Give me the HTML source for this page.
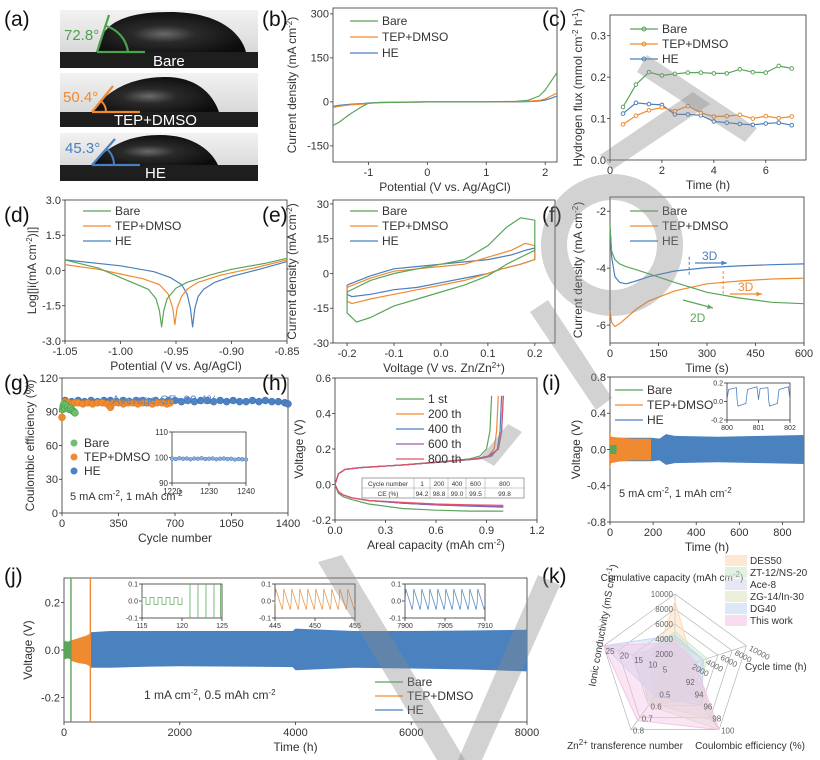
<!DOCTYPE html>
<html><head><meta charset="utf-8">
<style>
html,body{margin:0;padding:0;background:#fff;}
svg{display:block;font-family:"Liberation Sans",Arial,sans-serif;}
</style></head>
<body>
<svg id="fig" width="820" height="760" viewBox="0 0 820 760" xmlns="http://www.w3.org/2000/svg">
  <rect x="0" y="0" width="820" height="760" fill="#fff"/>
  <defs>
    <linearGradient id="photoBg" x1="0" y1="0" x2="0" y2="1">
      <stop offset="0" stop-color="#f2f2f2"/><stop offset="1" stop-color="#cfcfcf"/>
    </linearGradient>
    <radialGradient id="drop" cx="0.45" cy="0.55" r="0.6">
      <stop offset="0" stop-color="#6a6a6a"/><stop offset="0.35" stop-color="#2a2a2a"/><stop offset="1" stop-color="#0c0c0c"/>
    </radialGradient>
  </defs>
  <g>
    <g>
      <rect x="60" y="10" width="198" height="58" fill="url(#photoBg)"/>
      <rect x="60" y="52" width="198" height="16" fill="#1e1e1e"/>
      <path d="M97,52 C100,20 130,12 170,12 C215,12 240,30 246,52 Z" fill="url(#drop)"/>
      <text x="153" y="66" font-size="15" fill="#fff">Bare</text>
      <path d="M97,52 L145,52 M97,52 L109,15" stroke="#4ea24e" stroke-width="2.2" fill="none"/>
      <path d="M128,52 A31,31 0 0 0 106,26" stroke="#4ea24e" stroke-width="2.2" fill="none"/>
      <text x="64" y="40" font-size="15" fill="#4ea24e">72.8°</text>
    </g>
    <g>
      <rect x="60" y="73" width="198" height="54" fill="url(#photoBg)"/>
      <rect x="60" y="112" width="198" height="15" fill="#1e1e1e"/>
      <path d="M92,112 C110,85 140,77 165,77 C195,77 212,92 219,112 Z" fill="url(#drop)"/>
      <text x="114" y="125" font-size="15" fill="#fff">TEP+DMSO</text>
      <path d="M92,112 L140,112 M92,112 L113,86" stroke="#f08a30" stroke-width="2.2" fill="none"/>
      <path d="M106,112 A14,14 0 0 0 101,101" stroke="#f08a30" stroke-width="2" fill="none"/>
      <text x="63" y="102" font-size="15" fill="#f08a30">50.4°</text>
    </g>
    <g>
      <rect x="60" y="133" width="198" height="48" fill="url(#photoBg)"/>
      <rect x="60" y="165" width="198" height="16" fill="#1e1e1e"/>
      <path d="M92,165 C110,142 135,135 160,135 C190,135 210,148 218,165 Z" fill="url(#drop)"/>
      <text x="145" y="178" font-size="15" fill="#fff">HE</text>
      <path d="M92,165 L140,165 M92,165 L115,139" stroke="#4a7fbf" stroke-width="2.2" fill="none"/>
      <path d="M114,165 A22,22 0 0 0 107,149" stroke="#4a7fbf" stroke-width="2" fill="none"/>
      <text x="65" y="153" font-size="15" fill="#4a7fbf">45.3°</text>
    </g>
  </g>
</svg>
<script>
// ---------------- DATA ----------------
const bV=[-1.6,-1.5,-1.3,-1.1,-1.0,-0.8,0,1.0,1.5,1.7,1.9,2.0,2.1,2.2];
const bBare=[-80,-70,-40,-15,-5,-2,0,0,2,5,20,40,70,100];
const bTep=[-20,-15,-10,-8,-5,-2,0,0,1,2,5,10,20,30];
const bHe=[-15,-12,-8,-6,-4,-2,0,0,0,1,3,6,12,20];
const cTime=[0.5,1,1.5,2,2.5,3,3.5,4,4.5,5,5.5,6,6.5,7];
const cBare=[0.128,0.182,0.212,0.204,0.208,0.211,0.211,0.209,0.209,0.219,0.212,0.211,0.227,0.221];
const cTep=[0.086,0.107,0.12,0.127,0.118,0.13,0.114,0.105,0.106,0.109,0.1,0.106,0.101,0.105];
const cHe=[0.112,0.138,0.135,0.133,0.11,0.11,0.108,0.093,0.09,0.087,0.085,0.088,0.09,0.084];
const dBareX=[-1.05,-1.02,-1.0,-0.985,-0.975,-0.968,-0.965,-0.963,-0.961,-0.958,-0.95,-0.94,-0.92,-0.9,-0.87,-0.85];
const dBareY=[0.45,0.1,-0.3,-0.6,-0.8,-1.2,-1.7,-2.4,-1.7,-1.2,-0.75,-0.5,-0.2,0.05,0.3,0.52];
const dTepX=[-1.05,-1.02,-1.0,-0.98,-0.965,-0.957,-0.953,-0.951,-0.949,-0.945,-0.94,-0.93,-0.91,-0.88,-0.85];
const dTepY=[0.25,0.05,-0.15,-0.35,-0.6,-1.0,-1.6,-2.3,-1.6,-1.1,-0.8,-0.5,-0.2,0.1,0.45];
const dHeX=[-1.05,-1.0,-0.97,-0.955,-0.945,-0.94,-0.937,-0.935,-0.933,-0.93,-0.925,-0.915,-0.9,-0.875,-0.85];
const dHeY=[0.45,0.2,-0.05,-0.3,-0.6,-1.0,-1.6,-2.4,-1.6,-1.1,-0.8,-0.5,-0.25,0.05,0.38];
const eBareX=[-0.2,-0.15,-0.1,-0.05,0,0.05,0.1,0.14,0.17,0.2,0.2,0.17,0.14,0.1,0.05,0,-0.05,-0.1,-0.15,-0.18,-0.2,-0.2];
const eBareY=[-8,-3,0,2,4,6,12,20,24,23,10,7,4,-1,-5,-8,-11,-14,-19,-21,-17,-8];
const eTepX=[-0.2,-0.15,-0.1,-0.05,0,0.05,0.1,0.15,0.18,0.2,0.2,0.17,0.13,0.1,0.05,0,-0.05,-0.1,-0.15,-0.19,-0.2,-0.2];
const eTepY=[-6,-2,1,2,3,4,7,10,13,12,6,4,2,0,-3,-5,-7,-9,-11,-13,-12,-6];
const eHeX=[-0.2,-0.15,-0.1,-0.05,0,0.05,0.1,0.15,0.18,0.2,0.2,0.17,0.13,0.1,0.05,0,-0.05,-0.1,-0.15,-0.19,-0.2,-0.2];
const eHeY=[-5,-1,2,3,4,5,6,8,10,11,6,4,2,0,-2,-4,-6,-7,-9,-10,-9,-5];
const fTime=[0,5,15,30,50,80,120,200,300,400,500,600];
const fBare=[-2.5,-3.4,-3.7,-3.85,-3.95,-4.05,-4.2,-4.5,-4.85,-5.05,-5.2,-5.25];
const fTep=[-5.5,-5.9,-6.05,-5.95,-5.75,-5.45,-5.15,-4.8,-4.55,-4.45,-4.38,-4.35];
const fHe=[-2.5,-3.6,-4.3,-4.5,-4.55,-4.45,-4.3,-4.1,-3.98,-3.92,-3.88,-3.85];
const gBareC=[3,8,12,18,25,35,45,55,65,75,80];
const gBareV=[92,95,97,93,96,94,92,93,91,90,89];
const gTepC=[0,20,40,60,80,100,130,160,190,220,250,280,300,320,350,380,410,440,470,500,530,560,590,620,650,670];
const gTepV=[85,99,98,97,98,98,97,98,97,98,98,97,94,98,98,97,98,98,97,98,98,97,98,98,97,98];
const gHeC=[20,60,100,140,180,220,260,300,340,380,420,460,500,540,580,620,660,700,740,780,820,860,900,940,980,1020,1060,1100,1140,1180,1220,1260,1300,1340,1380,1400];
const gHeV=[100,99,100,99,100,99,100,100,99,100,99,100,100,99,100,99,100,100,99,100,99,100,100,99,100,99,100,99,99,100,99,100,99,99,98,97];
const gInsetC=[1220,1221,1222,1223,1224,1225,1226,1227,1228,1229,1230,1231,1232,1233,1234,1235,1236,1237,1238,1239,1240];
const gInsetV=[99.6,99.4,99.7,99.5,99.6,99.3,99.6,99.5,99.7,99.4,99.5,99.6,99.3,99.5,99.6,99.4,99.5,99.2,99.4,99.3,99.2];
const hLabels=["1 st","200 th","400 th","600 th","800 th"];
const hChargeV=[0,0.06,0.085,0.095,0.11,0.13,0.145,0.16,0.2,0.3,0.5];
const hChargeCap=[[0,0.02,0.06,0.15,0.4,0.65,0.8,0.86,0.9,0.92,0.93],[0,0.02,0.06,0.15,0.4,0.68,0.85,0.91,0.945,0.96,0.97],[0,0.02,0.06,0.15,0.4,0.68,0.86,0.93,0.965,0.98,0.99],[0,0.02,0.06,0.15,0.4,0.68,0.85,0.92,0.97,0.99,1.0],[0,0.02,0.06,0.15,0.4,0.66,0.83,0.91,0.97,0.99,1.0]];
const hDisCap=[0,0.02,0.05,0.1,0.2,0.4,0.6,0.8,1.0];
const hDisV=[[0,-0.05,-0.07,-0.085,-0.11,-0.135,-0.145,-0.15,-0.15],[0,-0.04,-0.06,-0.075,-0.09,-0.105,-0.115,-0.12,-0.125],[0,-0.04,-0.06,-0.075,-0.09,-0.105,-0.115,-0.122,-0.128],[0,-0.04,-0.06,-0.075,-0.09,-0.105,-0.115,-0.12,-0.125],[0,-0.04,-0.06,-0.075,-0.09,-0.1,-0.11,-0.115,-0.118]];
const hCycles=["1","200","400","600","800"];
const hCE=["94.2","98.8","99.0","99.5","99.8"];
const iBareT=[0,10,20,30];const iBareHi=[0.05,0.05,0.05,0.05];const iBareLo=[-0.05,-0.05,-0.05,-0.05];
const iTepT=[0,5,50,100,150,190];const iTepHi=[0.19,0.14,0.13,0.12,0.12,0.12];const iTepLo=[-0.22,-0.15,-0.13,-0.12,-0.12,-0.12];
const iHeT=[0,190,230,260,300,500,700,900];const iHeHi=[0.13,0.13,0.12,0.17,0.15,0.14,0.15,0.16];const iHeLo=[-0.13,-0.13,-0.12,-0.17,-0.15,-0.14,-0.15,-0.16];
const jBareT=[0,60,120];const jBareHi=[0.04,0.035,0.04];const jBareLo=[-0.04,-0.035,-0.04];
const jTepT=[120,250,380,455];const jTepHi=[0.04,0.05,0.06,0.07];const jTepLo=[-0.045,-0.055,-0.06,-0.07];
const jHeT=[455,800,1500,2000,3000,3950,4000,5000,6000,7000,8000];
const jHeHi=[0.075,0.08,0.08,0.08,0.08,0.08,0.09,0.08,0.08,0.082,0.085];
const jHeLo=[-0.075,-0.075,-0.07,-0.068,-0.07,-0.072,-0.085,-0.075,-0.078,-0.082,-0.09];
const kAxes=["capacity","cycle","ce","transference","conductivity"];
const kSeries=["DES50","ZT-12/NS-20","Ace-8","ZG-14/In-30","DG40","This work"];
const kVals=[[0.9,0.25,0.35,0.45,0.3],[0.5,0.45,0.5,0.6,0.5],[0.35,0.3,0.85,0.55,0.6],[0.25,0.2,1.0,0.6,0.15],[0.45,0.4,0.6,0.45,1.0],[0.35,0.28,1.0,0.85,1.0]];
const kFill=["#fbd9b5","#cfe8cf","#d9d9ec","#e0e3c4","#c4d8f0","#f3c6e6"];

// ---------------- HELPERS ----------------
const NS='http://www.w3.org/2000/svg';
const svg=document.getElementById('fig');
const GREEN='#5aa55a',ORANGE='#f08a30',BLUE='#4a7fbf';
function mk(tag,attrs,parent){const e=document.createElementNS(NS,tag);for(const k in attrs)e.setAttribute(k,attrs[k]);(parent||svg).appendChild(e);return e;}
function ax(x,y,w,h,xmin,xmax,ymin,ymax){return {x,y,w,h,sx:v=>x+(v-xmin)/(xmax-xmin)*w,sy:v=>y+h-(v-ymin)/(ymax-ymin)*h};}
function txt(x,y,s,o,parent){o=o||{};const t=mk('text',{x:x,y:y,'font-size':o.fs||11,fill:o.fill||'#333','text-anchor':o.anchor||'start'},parent);if(o.rot)t.setAttribute('transform','rotate('+o.rot+' '+x+' '+y+')');t.innerHTML=s;return t;}
function frame(a,xt,xl,yt,yl,xtitle,ytitle,name,fs){
  fs=fs||11;
  const g=mk('g',{});
  
  
  const r=mk('rect',{x:a.x,y:a.y,width:a.w,height:a.h,fill:'none',stroke:'#333','stroke-width':0.8},g);
  
  
  xt.forEach((v,i)=>{const X=a.sx(v);mk('line',{x1:X,x2:X,y1:a.y+a.h,y2:a.y+a.h+3,stroke:'#333','stroke-width':0.8},g);
    const t=txt(X,a.y+a.h+fs+3,xl[i],{fs:fs,anchor:'middle'},g);
    
    });
  yt.forEach((v,i)=>{const Y=a.sy(v);mk('line',{x1:a.x-3,x2:a.x,y1:Y,y2:Y,stroke:'#333','stroke-width':0.8},g);
    const t=txt(a.x-4,Y+fs*0.35,yl[i],{fs:fs,anchor:'end'},g);
    
    });
  if(xtitle){const t=txt(a.x+a.w/2,a.y+a.h+fs*2+7,xtitle,{fs:12,anchor:'middle'},g);
    
    }
  if(ytitle){const yx=ytitle[1],t=txt(yx,a.y+a.h/2,ytitle[0],{fs:12,anchor:'middle',rot:-90},g);
    
    }
  return g;}
function path(a,xs,ys,color,w,parent){let d='';xs.forEach((v,i)=>{d+=(i?'L':'M')+a.sx(v).toFixed(1)+','+a.sy(ys[i]).toFixed(1);});return mk('path',{d:d,fill:'none',stroke:color,'stroke-width':w||1.2,'stroke-linejoin':'round'},parent);}
function band(a,ts,hi,lo,color,parent){let d='';ts.forEach((v,i)=>{d+=(i?'L':'M')+a.sx(v).toFixed(1)+','+a.sy(hi[i]).toFixed(1);});for(let i=ts.length-1;i>=0;i--)d+='L'+a.sx(ts[i]).toFixed(1)+','+a.sy(lo[i]).toFixed(1);return mk('path',{d:d+'Z',fill:color,stroke:'none'},parent);}
function letter(x,y,s){const t=txt(x,y,s,{fs:21,fill:'#111'});return t;}
function legLine(x,y,color,label,marker,fs){const g=mk('g',{});mk('line',{x1:x,x2:x+28,y1:y,y2:y,stroke:color,'stroke-width':1.2},g);if(marker)mk('circle',{cx:x+14,cy:y,r:2,fill:'none',stroke:color},g);txt(x+32,y+4,label,{fs:fs||12},g);return g;}
const SUP=s=>'<tspan baseline-shift="super" font-size="8">'+s+'</tspan>';

letter(4,26,'(a)');letter(262,26,'(b)');letter(542,26,'(c)');
letter(4,222,'(d)');letter(262,222,'(e)');letter(542,222,'(f)');
letter(4,390,'(g)');letter(262,390,'(h)');letter(542,390,'(i)');
letter(4,583,'(j)');letter(542,583,'(k)');

// (b)
{const a=ax(333,8,224,154,-1.6,2.2,-205,320);
frame(a,[-1,0,1,2],['-1','0','1','2'],[-150,0,150,300],['-150','0','150','300'],'Potential (V vs. Ag/AgCl)',['Current density (mA cm'+SUP('-2')+')',296],'lsv');
let p=path(a,bV,bHe,BLUE);
p=path(a,bV,bTep,ORANGE);
p=path(a,bV,bBare,GREEN);
let l=legLine(350,21,GREEN,'Bare');
l=legLine(350,37,ORANGE,'TEP+DMSO');
l=legLine(350,53,BLUE,'HE');}

// (c)
{const a=ax(610,15,196,145,0,7.55,0,0.35);
frame(a,[0,2,4,6],['0','2','4','6'],[0,0.1,0.2,0.3],['0.0','0.1','0.2','0.3'],'Time (h)',['Hydrogen flux (mmol cm'+SUP('-2')+' h'+SUP('-1')+')',582],'flux');
[[cHe,BLUE,'he'],[cTep,ORANGE,'tep-dmso'],[cBare,GREEN,'bare']].forEach(s=>{
  const p=path(a,cTime,s[0],s[1]);
  
  
  cTime.forEach((t,i)=>{const c=mk('circle',{cx:a.sx(t),cy:a.sy(s[0][i]),r:1.8,fill:'#fff',stroke:s[1],'stroke-width':1});
    
    });});
let l=legLine(630,29,GREEN,'Bare',1);
l=legLine(630,44,ORANGE,'TEP+DMSO',1);
l=legLine(630,59,BLUE,'HE',1);}

// (d)
{const a=ax(65,200,222,141,-1.05,-0.85,-3,3);
frame(a,[-1.05,-1.0,-0.95,-0.9,-0.85],['-1.05','-1.00','-0.95','-0.90','-0.85'],[-3,-1.5,0,1.5,3],['-3.0','-1.5','0.0','1.5','3.0'],'Potential (V vs. Ag/AgCl)',['Log[|i(mA cm'+SUP('-2')+')|]',36],'tafel');
let p=path(a,dHeX,dHeY,BLUE);
p=path(a,dTepX,dTepY,ORANGE);
p=path(a,dBareX,dBareY,GREEN);
let l=legLine(83,211,GREEN,'Bare');
l=legLine(83,226,ORANGE,'TEP+DMSO');
l=legLine(83,241,BLUE,'HE');}

// (e)
{const a=ax(333,200,222,143,-0.23,0.243,-30,31.7);
frame(a,[-0.2,-0.1,0,0.1,0.2],['-0.2','-0.1','0.0','0.1','0.2'],[-30,-15,0,15,30],['-30','-15','0','15','30'],'Voltage (V vs. Zn/Zn'+SUP('2+')+')',['Current density (mA cm'+SUP('-2')+')',296],'cv');
let p=path(a,eHeX,eHeY,BLUE);
p=path(a,eTepX,eTepY,ORANGE);
p=path(a,eBareX,eBareY,GREEN);
let l=legLine(350,211,GREEN,'Bare');
l=legLine(350,226,ORANGE,'TEP+DMSO');
l=legLine(350,241,BLUE,'HE');}

// (f)
{const a=ax(610,197,194,146,0,600,-6.63,-1.5);
frame(a,[0,150,300,450,600],['0','150','300','450','600'],[-6,-4,-2],['-6','-4','-2'],'Time (s)',['Current density (mA cm'+SUP('-2')+')',582],'ca');
let p=path(a,fTime,fHe,BLUE);
p=path(a,fTime,fTep,ORANGE);
p=path(a,fTime,fBare,GREEN);
let l=legLine(630,211,GREEN,'Bare');
l=legLine(630,226,ORANGE,'TEP+DMSO');
l=legLine(630,241,BLUE,'HE');
const d1=mk('line',{x1:a.sx(245),x2:a.sx(245),y1:a.sy(-3.6),y2:a.sy(-4.3),stroke:BLUE,'stroke-dasharray':'3,2'});
const d2=mk('line',{x1:a.sx(350),x2:a.sx(350),y1:a.sy(-4.1),y2:a.sy(-4.9),stroke:ORANGE,'stroke-dasharray':'3,2'});
function arrow(x1,y1,x2,y2,c,lab,lx,ly,nm){const g=mk('g',{});mk('line',{x1,y1,x2,y2,stroke:c,'stroke-width':1.3},g);const ang=Math.atan2(y2-y1,x2-x1);mk('path',{d:`M${x2},${y2}L${x2-6*Math.cos(ang-0.4)},${y2-6*Math.sin(ang-0.4)}L${x2-6*Math.cos(ang+0.4)},${y2-6*Math.sin(ang+0.4)}Z`,fill:c},g);txt(lx,ly,lab,{fs:12,fill:c},g);}
arrow(695,263,727,263,BLUE,'3D',702,260,'ca-annotation-3d-he');
arrow(730,294,762,294,ORANGE,'3D',738,291,'ca-annotation-3d-tep');
arrow(683,300,713,308,GREEN,'2D',690,322,'ca-annotation-2d-bare');}

// (g)
{const a=ax(62,378,226,135,0,1400,0,120);
frame(a,[0,350,700,1050,1400],['0','350','700','1050','1400'],[0,30,60,90,120],['0','30','60','90','120'],'Cycle number',['Coulombic efficiency (%)',34],'ce');
gHeC.forEach((c,i)=>{const e=mk('circle',{cx:a.sx(c),cy:a.sy(gHeV[i]),r:3.5,fill:'#4d82c2',stroke:'#3a6aa8','stroke-width':0.5});
  
  });
gTepC.forEach((c,i)=>{const e=mk('circle',{cx:a.sx(c),cy:a.sy(gTepV[i]),r:3.5,fill:ORANGE,stroke:'#d0701c','stroke-width':0.5});
  
  });
gBareC.forEach((c,i)=>{const e=mk('circle',{cx:a.sx(c),cy:a.sy(gBareV[i]),r:3.5,fill:'#6cbf6c',stroke:'#3f8f3f','stroke-width':0.5});
  
  });
let t=txt(112,404,'Average CE=99.4%',{fs:12,fill:'#5a8ac6'});
t=txt(70,500,'5 mA cm'+SUP('-2')+', 1 mAh cm'+SUP('-2'),{fs:11});
[[GREEN,'#6cbf6c','Bare',447],[ORANGE,ORANGE,'TEP+DMSO',461],['#4d82c2','#4d82c2','HE',475]].forEach(s=>{const g=mk('g',{});mk('circle',{cx:74,cy:s[3]-4,r:3.5,fill:s[1]},g);txt(84,s[3],s[2],{fs:12},g);
  
  });
const b=ax(172,432,74,51,1220,1240,90,110);
frame(b,[1220,1230,1240],['1220','1230','1240'],[90,100,110],['90','100','110'],null,null,'ce-inset',8);
gInsetC.forEach((c,i)=>{const e=mk('circle',{cx:b.sx(c),cy:b.sy(gInsetV[i]),r:1.8,fill:'#8fb0da',stroke:'#4d82c2','stroke-width':0.6});
  
  });}

// (h)
{const a=ax(335,378,202,142,0,1.2,-0.2,0.6);
frame(a,[0,0.3,0.6,0.9,1.2],['0.0','0.3','0.6','0.9','1.2'],[-0.2,0,0.2,0.4,0.6],['-0.2','0.0','0.2','0.4','0.6'],'Areal capacity (mAh cm'+SUP('-2')+')',['Voltage (V)',303],'profile');
const cols=[GREEN,ORANGE,BLUE,'#9a5fb0','#e0506a'];
hLabels.forEach((lab,k)=>{
  const p1=path(a,hChargeCap[k],hChargeV,cols[k]);
  
  
  const p2=path(a,hDisCap,hDisV[k],cols[k]);
  
  
  const l=legLine(396,399+k*15,cols[k],lab,0,12);
  
  });
const tg=mk('g',{});
mk('rect',{x:362,y:478,width:162,height:20,fill:'#fff',stroke:'#666','stroke-width':0.6},tg);
mk('line',{x1:362,x2:524,y1:488,y2:488,stroke:'#999','stroke-width':0.5},tg);
const colX=[362,414,430,448,466,485,524];
for(let i=1;i<6;i++)mk('line',{x1:colX[i],x2:colX[i],y1:478,y2:498,stroke:'#999','stroke-width':0.5},tg);
txt(388,486,'Cycle number',{fs:6.5,anchor:'middle'},tg);txt(388,496,'CE (%)',{fs:6.5,anchor:'middle'},tg);
hCycles.forEach((c,i)=>{const cx=(colX[i+1]+colX[i+2])/2;txt(cx,486,c,{fs:6.5,anchor:'middle'},tg);txt(cx,496,hCE[i],{fs:6.5,anchor:'middle'},tg);});}

// (i)
{const a=ax(610,377,194,145,0,900,-0.8,0.8);
frame(a,[0,200,400,600,800],['0','200','400','600','800'],[-0.8,-0.4,0,0.4,0.8],['-0.8','-0.4','0.0','0.4','0.8'],'Time (h)',['Voltage (V)',580],'sym5');
let p=band(a,iHeT,iHeHi,iHeLo,'#4a82c0');
p=band(a,iTepT,iTepHi,iTepLo,ORANGE);
p=band(a,iBareT,iBareHi,iBareLo,GREEN);
let l=legLine(615,390,GREEN,'Bare');
l=legLine(615,405,ORANGE,'TEP+DMSO');
l=legLine(615,420,BLUE,'HE');
let t=txt(619,497,'5 mA cm'+SUP('-2')+', 1 mAh cm'+SUP('-2'),{fs:11});
const b=ax(727,383,63,37,800,802,-0.2,0.2);
frame(b,[800,801,802],['800','801','802'],[-0.2,0,0.2],['-0.2','0.0','0.2'],null,null,'sym5-inset',7);
const iInT=[800,800.05,800.3,800.32,800.35,800.6,800.65,800.95,801,801.05,801.3,801.32,801.35,801.6,801.65,801.95,802];
const iInV=[0.02,0.13,0.15,0.02,-0.05,-0.02,0.13,0.16,0.02,0.14,0.15,0.02,-0.05,-0.02,0.13,0.16,0.02];
p=path(b,iInT,iInV,BLUE,0.8);}

// (j)
{const a=ax(64,578,463,144,0,8000,-0.303,0.303);
frame(a,[0,2000,4000,6000,8000],['0','2000','4000','6000','8000'],[-0.2,0,0.2],['-0.2','0.0','0.2'],'Time (h)',['Voltage (V)',32],'sym1');
let p=band(a,jHeT,jHeHi,jHeLo,'#4a82c0');
p=band(a,jTepT,jTepHi,jTepLo,ORANGE);
p=band(a,jBareT,jBareHi,jBareLo,GREEN);
const v1=mk('line',{x1:a.sx(120),x2:a.sx(120),y1:a.y,y2:a.y+a.h,stroke:GREEN,'stroke-width':1.4});
const v2=mk('line',{x1:a.sx(455),x2:a.sx(455),y1:a.y,y2:a.y+a.h,stroke:ORANGE,'stroke-width':1.4});
let l=legLine(375,682,GREEN,'Bare');
l=legLine(375,696,ORANGE,'TEP+DMSO');
l=legLine(375,710,BLUE,'HE');
let t=txt(144,699,'1 mA cm'+SUP('-2')+', 0.5 mAh cm'+SUP('-2'),{fs:12});
const insets=[[142,115,125,['115','120','125'],GREEN,'bare'],[275,445,455,['445','450','455'],ORANGE,'tep'],[405,7900,7910,['7900','7905','7910'],BLUE,'he']];
insets.forEach(s=>{const b=ax(s[0],584,80,34,s[1],s[2],-0.1,0.1);
  frame(b,[s[1],(s[1]+s[2])/2,s[2]],s[3],[-0.1,0,0.1],['-0.1','0.0','0.1'],null,null,'sym1-inset-'+s[5],7);
  const xs=[],ys=[];const n=10;
  for(let k=0;k<n;k++){const t0=s[1]+(s[2]-s[1])*k/n,dt=(s[2]-s[1])/n;
    if(s[5]==='bare'){xs.push(t0,t0+0.001,t0+dt/2,t0+dt/2+0.001,t0+dt);ys.push(-0.02,0.02,0.02,-0.02,-0.02);}
    else{xs.push(t0,t0+dt*0.1,t0+dt*0.9,t0+dt);ys.push(-0.02,0.07,-0.05,-0.02);}}
  const keep=s[5]==='bare'?xs.filter(x=>x<=120.2).length:xs.length;
  let p=path(b,xs.slice(0,keep),ys.slice(0,keep),s[4],0.7);
  
  
  if(s[5]==='bare'){[121,122,123,124,124.8].forEach(v=>{const ln=mk('line',{x1:b.sx(v),x2:b.sx(v),y1:b.y,y2:b.y+b.h,stroke:GREEN,'stroke-width':0.8});
    
    });}});}

// (k) radar
{const cx=675,cy=669,R=75;
const ang=[-90,-18,54,126,198].map(d=>d*Math.PI/180);
const pt=(k,f)=>[cx+R*f*Math.cos(ang[k]),cy+R*f*Math.sin(ang[k])];
const gg=mk('g',{});
[0.2,0.4,0.6,0.8,1].forEach(f=>{mk('polygon',{points:[0,1,2,3,4].map(k=>pt(k,f).join(',')).join(' '),fill:'none',stroke:'#aaa','stroke-width':0.6},gg);});
[0,1,2,3,4].forEach(k=>{const q=pt(k,1);mk('line',{x1:cx,y1:cy,x2:q[0],y2:q[1],stroke:'#aaa','stroke-width':0.6},gg);});
kVals.forEach((v,s)=>{const p=mk('polygon',{points:v.map((f,k)=>pt(k,f).join(',')).join(' '),fill:kFill[s],'fill-opacity':0.45,stroke:kFill[s],'stroke-width':1});
  
  });
const tickSets=[['2000','4000','6000','8000','10000'],['2000','4000','6000','8000','10000'],['92','94','96','98','100'],['0.5','0.6','0.7','0.8',''],['5','10','15','20','25']];
tickSets.forEach((ts,k)=>{ts.forEach((s,i)=>{if(!s)return;const f=k===3?(i+2)/5:(i+1)/5;const q=pt(k,f);
  const t=txt(q[0]+(k===0?-2:2),q[1]+(k===0?3:(k===4?8:4)),s,{fs:8,fill:'#666',anchor:k===0?'end':'start',rot:k===1?28:0});
  
  });});
let t=txt(672,581,'Cumulative capacity (mAh cm'+SUP('-2')+')',{fs:10,anchor:'middle'});
t=txt(745,670,'Cycle time (h)',{fs:10});
t=txt(750,749,'Coulombic efficiency (%)',{fs:10,anchor:'middle'});
t=txt(625,749,'Zn'+SUP('2+')+' transference number',{fs:10,anchor:'middle'});
t=txt(606,626,'Ionic conductivity (mS cm'+SUP('-1')+')',{fs:10,anchor:'middle',rot:-80});
kSeries.forEach((s,i)=>{const g=mk('g',{});mk('rect',{x:725,y:555+i*12,width:22,height:11,fill:kFill[i],'fill-opacity':0.6},g);txt(750,564+i*12,s,{fs:10},g);
  
  });}

// watermark
{const wm=mk('g',{fill:'#888','fill-opacity':0.38});


mk('polygon',{points:'637,72 647,55 757,128 745,142'},wm);
mk('polygon',{points:'693,92 710,104 612,170 600,155'},wm);
mk('circle',{cx:612,cy:245,r:58,fill:'none',stroke:'#888','stroke-opacity':0.38,'stroke-width':26},wm);
mk('polygon',{points:'530,312 548,300 612,398 596,410'},wm);
mk('polygon',{points:'508,424 522,432 494,466 480,458'},wm);
mk('polygon',{points:'318,562 342,555 465,760 437,760'},wm);
mk('polygon',{points:'538,575 560,585 482,760 458,760'},wm);}
</script>
</body></html>
